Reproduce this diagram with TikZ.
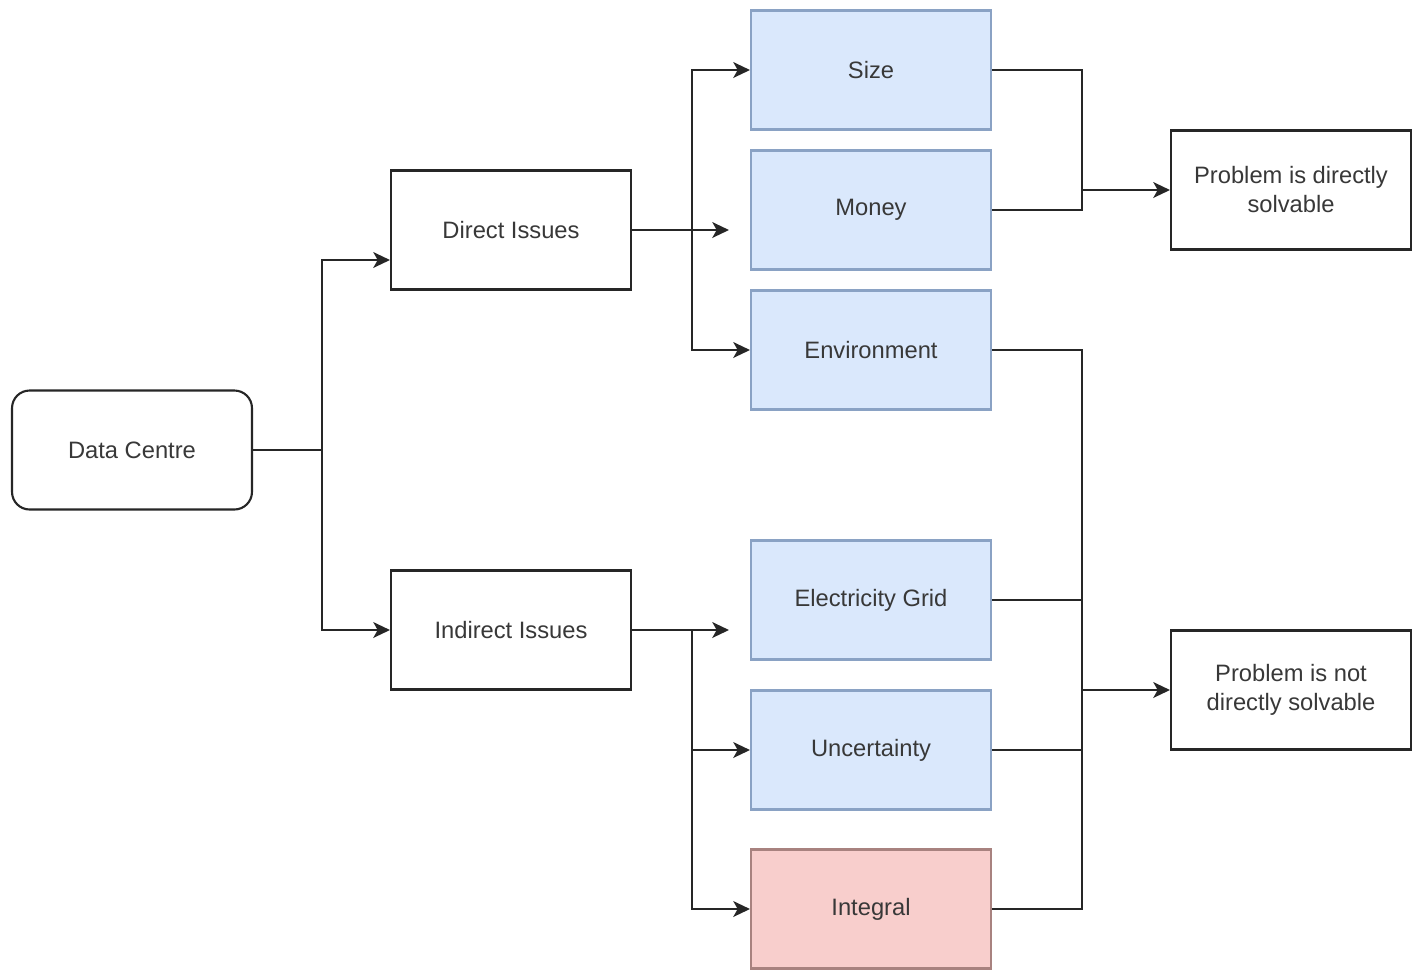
\documentclass[tikz,border=0pt]{standalone}
\usepackage{fontspec}
\setmainfont{Liberation Sans}
\usetikzlibrary{arrows.meta}

\definecolor{issuefill}{HTML}{DAE8FC}
\definecolor{issueline}{HTML}{8AA2C4}
\definecolor{integfill}{HTML}{F8CECC}
\definecolor{integline}{HTML}{A8827F}

\begin{document}
\begin{tikzpicture}[x=0.02cm,y=-0.02cm,>={Stealth[length=9.5pt,width=9pt,inset=2.5pt]},
  every node/.style={font=\fontsize{13.5}{16.5}\selectfont,text=black!78},
  box/.style={draw=black!85,line width=1.2pt,fill=white,minimum width=4.8cm,
    minimum height=2.38cm,align=center,inner sep=0pt},
  issue/.style={box,draw=issueline,fill=issuefill},
  integ/.style={box,draw=integline,fill=integfill},
  link/.style={line width=1.2pt,black!85}]
  \useasboundingbox (0,0) rectangle (1415,971);

  \node[box,rounded corners=10pt] (dc) at (132,450) {Data Centre};
  \node[box] (direct) at (511,230) {Direct Issues};
  \node[box] (indirect) at (511,630) {Indirect Issues};

  \node[issue] (size) at (871,70) {Size};
  \node[issue] (money) at (871,210) {Money};
  \node[issue] (env) at (871,350) {Environment};
  \node[issue] (grid) at (871,600) {Electricity Grid};
  \node[issue] (uncert) at (871,750) {Uncertainty};
  \node[integ] (integral) at (871,909) {Integral};

  \node[box] (solv) at (1291,190) {Problem is directly\\solvable};
  \node[box] (nsolv) at (1291,690) {Problem is not\\directly solvable};

  \coordinate (fork) at (322,450);
  \coordinate (dfork) at (692,230);
  \coordinate (ifork) at (692,630);
  \coordinate (join1) at (1082,190);
  \coordinate (join2) at (1082,690);

  % data centre split
  \draw[link,->] (dc.east) -- (fork) |- ([yshift=-0.6cm]direct.west);
  \draw[link,->] (fork) |- (indirect.west);

  % direct issues
  \draw[link,->] (direct.east) -- ([xshift=-0.42cm]money.west |- direct.east);
  \draw[link,->] (dfork) |- (size.west);
  \draw[link,->] (dfork) |- (env.west);

  % indirect issues
  \draw[link,->] (indirect.east) -- ([xshift=-0.42cm]grid.west |- indirect.east);
  \draw[link,->] (ifork) |- (uncert.west);
  \draw[link,->] (ifork) |- (integral.west);

  % outcomes
  \draw[link] (size.east) -| (join1);
  \draw[link] (money.east) -| (join1);
  \draw[link,->] (join1) -- (solv.west);
  \draw[link] (env.east) -| (join2);
  \draw[link] (grid.east) -- (grid.east -| join2);
  \draw[link] (uncert.east) -- (uncert.east -| join2);
  \draw[link] (integral.east) -| (join2);
  \draw[link,->] (join2) -- (nsolv.west);
\end{tikzpicture}
\end{document}
